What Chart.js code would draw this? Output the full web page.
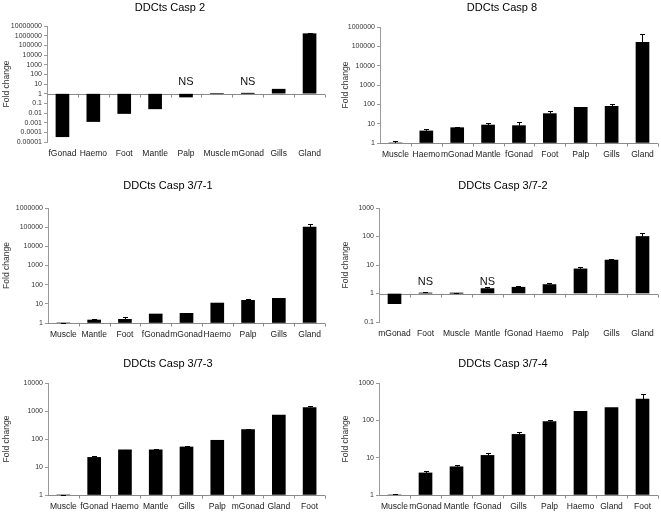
<!DOCTYPE html>
<html>
<head>
<meta charset="utf-8">
<script src="https://cdn.jsdelivr.net/npm/chart.js@4"></script>
<style>
  body { margin: 0; background: #fff; width: 661px; height: 515px; position: relative; overflow: hidden; }
  canvas { position: absolute; }
</style>
</head>
<body>
<canvas id="casp2"></canvas>
<canvas id="casp8"></canvas>
<canvas id="casp371"></canvas>
<canvas id="casp372"></canvas>
<canvas id="casp373"></canvas>
<canvas id="casp374"></canvas>
<script>
// --- data ---
const casp2Labels = ['fGonad', 'Haemo', 'Foot', 'Mantle', 'Palp', 'Muscle', 'mGonad', 'Gills', 'Gland'];
const casp2Values = [0.000035, 0.0013, 0.0088, 0.027, 0.45, 1, 1.05, 2.9, 1600000];
const casp2Errors = [null, null, null, null, null, null, null, 3.4, 1900000];
const casp2Ticks = ['0.00001', '0.0001', '0.001', '0.01', '0.1', '1', '10', '100', '1000', '10000', '100000', '1000000', '10000000'];
const casp2NS = ['Palp', 'mGonad'];

const casp8Labels = ['Muscle', 'Haemo', 'mGonad', 'Mantle', 'fGonad', 'Foot', 'Palp', 'Gills', 'Gland'];
const casp8Values = [1, 4.2, 6.2, 8.5, 7.9, 33, 70, 79, 160000];
const casp8Errors = [1.25, 5.3, 7.0, 10.4, 12.2, 43, 73, 104, 450000];
const casp8Ticks = ['1', '10', '100', '1000', '10000', '100000', '1000000'];

const casp371Labels = ['Muscle', 'Mantle', 'Foot', 'fGonad', 'mGonad', 'Haemo', 'Palp', 'Gills', 'Gland'];
const casp371Values = [1, 1.43, 1.55, 2.95, 3.2, 11, 15.2, 19.4, 102000];
const casp371Errors = [1.03, 1.6, 1.97, 3.06, 3.46, 11.5, 18.6, 21, 147000];
const casp371Ticks = ['1', '10', '100', '1000', '10000', '100000', '1000000'];

const casp372Labels = ['mGonad', 'Foot', 'Muscle', 'Mantle', 'fGonad', 'Haemo', 'Palp', 'Gills', 'Gland'];
const casp372Values = [0.44, 1.03, 1.02, 1.49, 1.66, 2.06, 7.3, 14.9, 100];
const casp372Errors = [null, 1.14, 1.08, 1.75, 1.8, 2.4, 8.3, 15.7, 131];
const casp372Ticks = ['0.1', '1', '10', '100', '1000'];
const casp372NS = ['Foot', 'Mantle'];

const casp373Labels = ['Muscle', 'fGonad', 'Haemo', 'Mantle', 'Gills', 'Palp', 'mGonad', 'Gland', 'Foot'];
const casp373Values = [1, 22, 41, 41, 52, 90, 215, 720, 1320];
const casp373Errors = [1.04, 24, 42, 43, 54, 95, 232, null, 1500];
const casp373Ticks = ['1', '10', '100', '1000', '10000'];

const casp374Labels = ['Muscle', 'mGonad', 'Mantle', 'fGonad', 'Gills', 'Palp', 'Haemo', 'Gland', 'Foot'];
const casp374Values = [1, 3.9, 5.7, 11.5, 42, 92, 174, 220, 370];
const casp374Errors = [1.08, 4.5, 6.4, 13.3, 48.8, 104, 181, null, 510];
const casp374Ticks = ['1', '10', '100', '1000'];

// --- where each panel sits on the page (page pixels) ---
const layouts = {
  casp2:   { x: 0,   y: 0,   w: 330, h: 170, left: 47,  top: 26,  right: 325, bottom: 142, titleX: 170, titleY: 8,   yTitleX: 6 },
  casp8:   { x: 330, y: 0,   w: 331, h: 170, left: 380, top: 27,  right: 658, bottom: 143, titleX: 502, titleY: 8,   yTitleX: 15 },
  casp371: { x: 0,   y: 170, w: 330, h: 170, left: 48,  top: 208, right: 325, bottom: 323, titleX: 168, titleY: 186, yTitleX: 6 },
  casp372: { x: 330, y: 170, w: 331, h: 170, left: 379, top: 208, right: 658, bottom: 322, titleX: 503, titleY: 186, yTitleX: 15 },
  casp373: { x: 0,   y: 340, w: 330, h: 175, left: 48,  top: 383, right: 325, bottom: 495, titleX: 168, titleY: 364, yTitleX: 6 },
  casp374: { x: 330, y: 340, w: 331, h: 175, left: 379, top: 383, right: 658, bottom: 495, titleX: 503, titleY: 364, yTitleX: 15 },
};

const FONT = "'Liberation Sans', Arial, sans-serif";
Chart.defaults.font.family = FONT;

function makePanel(id, title, labels, values, errors, ticks, nsLabels) {
  const L = layouts[id];
  const canvas = document.getElementById(id);
  canvas.width = L.w;
  canvas.height = L.h;
  canvas.style.left = L.x + 'px';
  canvas.style.top = L.y + 'px';

  // category axis line drawn at fold change = 1, with ticks between categories
  const axisAtOne = {
    id: 'axisAtOne',
    beforeDatasetsDraw(chart) {
      const { ctx, chartArea: a, scales: { y } } = chart;
      const py = Math.round(y.getPixelForValue(1)) + 0.5;
      const n = labels.length;
      ctx.save();
      ctx.strokeStyle = '#8a8a8a';
      ctx.lineWidth = 1;
      ctx.beginPath();
      ctx.moveTo(a.left, py);
      ctx.lineTo(a.right, py);
      for (let k = 1; k <= n; k++) {
        const px = Math.round(a.left + k * a.width / n) + 0.5;
        ctx.moveTo(px, py);
        ctx.lineTo(px, py + 3);
      }
      ctx.stroke();
      ctx.restore();
    }
  };

  const errorBars = {
    id: 'errorBars',
    afterDatasetsDraw(chart) {
      const { ctx, scales: { y } } = chart;
      const meta = chart.getDatasetMeta(0);
      ctx.save();
      ctx.strokeStyle = '#000';
      ctx.lineWidth = 1;
      errors.forEach((err, i) => {
        if (err == null) return;
        const px = Math.round(meta.data[i].x) + 0.5;
        const y0 = y.getPixelForValue(values[i]);
        const y1 = Math.round(y.getPixelForValue(err)) + 0.5;
        ctx.beginPath();
        ctx.moveTo(px, y0);
        ctx.lineTo(px, y1);
        ctx.moveTo(px - 2.5, y1);
        ctx.lineTo(px + 2.5, y1);
        ctx.stroke();
      });
      ctx.restore();
    }
  };

  const notSignificant = {
    id: 'notSignificant',
    afterDatasetsDraw(chart) {
      if (!nsLabels) return;
      const { ctx, scales: { x, y } } = chart;
      ctx.save();
      ctx.font = '11px ' + FONT;
      ctx.fillStyle = '#111';
      ctx.textAlign = 'center';
      ctx.textBaseline = 'middle';
      nsLabels.forEach(name => {
        const px = x.getPixelForValue(labels.indexOf(name));
        ctx.fillText('NS', px, y.getPixelForValue(1) - 12);
      });
      ctx.restore();
    }
  };

  const panelTitle = {
    id: 'panelTitle',
    afterDraw(chart) {
      const ctx = chart.ctx;
      ctx.save();
      ctx.font = '11px ' + FONT;
      ctx.fillStyle = '#000';
      ctx.textAlign = 'center';
      ctx.textBaseline = 'middle';
      ctx.fillText(title, L.titleX - L.x, L.titleY - L.y);
      ctx.restore();
    }
  };

  return new Chart(canvas, {
    type: 'bar',
    data: {
      labels: labels,
      datasets: [{
        data: values,
        base: 1,
        backgroundColor: '#000',
        borderWidth: 0,
        barThickness: 13,
      }]
    },
    options: {
      responsive: false,
      animation: false,
      devicePixelRatio: 1,
      layout: {
        padding: { left: 0, top: L.top - L.y, right: L.x + L.w - L.right, bottom: 0 }
      },
      plugins: {
        legend: { display: false },
        tooltip: { enabled: false },
      },
      scales: {
        x: {
          grid: { display: false, drawTicks: false },
          border: { display: false },
          ticks: { font: { size: 8.5 }, color: '#222', padding: 7, maxRotation: 0, autoSkip: false },
          afterFit: s => { s.height = L.y + L.h - L.bottom; }
        },
        y: {
          type: 'logarithmic',
          min: Number(ticks[0]),
          max: Number(ticks[ticks.length - 1]),
          afterBuildTicks: s => { s.ticks = ticks.map(t => ({ value: Number(t) })); },
          afterFit: s => { s.width = L.left - L.x; },
          ticks: {
            autoSkip: false,
            font: { size: 7 },
            color: '#333',
            padding: 2,
            callback: (v, i) => ticks[i]
          },
          grid: { drawOnChartArea: false, tickLength: 3, color: '#9a9a9a' },
          border: { color: '#9a9a9a' },
          title: {
            display: true,
            text: 'Fold change',
            font: { size: 8.5 },
            color: '#333',
            padding: { top: L.yTitleX - 4.5, bottom: 0 }
          }
        }
      }
    },
    plugins: [axisAtOne, errorBars, notSignificant, panelTitle]
  });
}

makePanel('casp2', 'DDCts Casp 2', casp2Labels, casp2Values, casp2Errors, casp2Ticks, casp2NS);
makePanel('casp8', 'DDCts Casp 8', casp8Labels, casp8Values, casp8Errors, casp8Ticks, null);
makePanel('casp371', 'DDCts Casp 3/7-1', casp371Labels, casp371Values, casp371Errors, casp371Ticks, null);
makePanel('casp372', 'DDCts Casp 3/7-2', casp372Labels, casp372Values, casp372Errors, casp372Ticks, casp372NS);
makePanel('casp373', 'DDCts Casp 3/7-3', casp373Labels, casp373Values, casp373Errors, casp373Ticks, null);
makePanel('casp374', 'DDCts Casp 3/7-4', casp374Labels, casp374Values, casp374Errors, casp374Ticks, null);
</script>
</body>
</html>
